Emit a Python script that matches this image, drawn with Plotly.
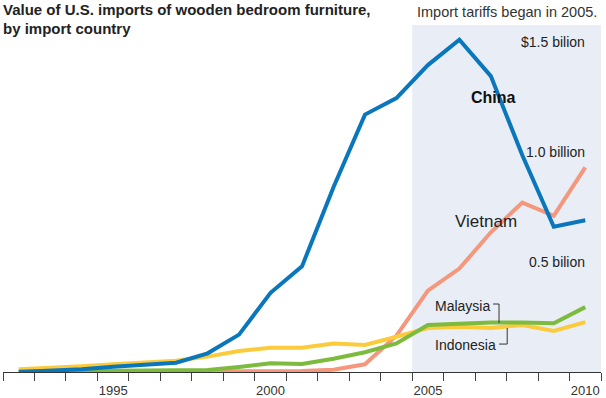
import plotly.graph_objects as go

years = list(range(1992, 2011))
china = [0.0, 0.005, 0.012, 0.024, 0.033, 0.042, 0.085, 0.17, 0.36, 0.48, 0.84, 1.17, 1.245, 1.395, 1.51, 1.345, 0.985, 0.66, 0.69]
vietnam_years = list(range(1996, 2011))
vietnam = [0.002, 0.002, 0.002, 0.003, 0.003, 0.004, 0.01, 0.035, 0.165, 0.37, 0.47, 0.635, 0.77, 0.71, 0.93]
malaysia = [0.002, 0.003, 0.004, 0.005, 0.006, 0.007, 0.009, 0.023, 0.04, 0.036, 0.06, 0.09, 0.13, 0.214, 0.221, 0.225, 0.225, 0.222, 0.295]
indonesia = [0.012, 0.018, 0.026, 0.035, 0.043, 0.051, 0.07, 0.095, 0.11, 0.11, 0.13, 0.123, 0.16, 0.2, 0.206, 0.2, 0.214, 0.187, 0.227]

tick_years = [1995, 2000, 2005, 2010]
boundaries = [y - 0.5 for y in range(1992, 2012)]

C_CHINA = "#0A77BD"
C_VIET = "#F4977C"
C_MAL = "#7DBB3E"
C_INDO = "#FBCB3C"

Y_MAX = 1.6

fig = go.Figure()
fig.add_trace(go.Scatter(x=vietnam_years, y=vietnam, mode="lines", line=dict(color=C_VIET, width=4), hoverinfo="skip"))
fig.add_trace(go.Scatter(x=years, y=indonesia, mode="lines", line=dict(color=C_INDO, width=4), hoverinfo="skip"))
fig.add_trace(go.Scatter(x=years, y=malaysia, mode="lines", line=dict(color=C_MAL, width=4), hoverinfo="skip"))
fig.add_trace(go.Scatter(x=years, y=china, mode="lines", line=dict(color=C_CHINA, width=4), hoverinfo="skip"))

# shaded tariff period
fig.add_shape(type="rect", xref="x", yref="y", x0=2004.5, x1=2010.5, y0=0, y1=1.577,
              fillcolor="#E9EEF6", line=dict(width=0), layer="below")

# leader brackets
fig.add_shape(type="path", xref="x", yref="y",
              path="M 2007.07 0.309 L 2007.26 0.309 L 2007.26 0.223",
              line=dict(color="#333", width=1))
fig.add_shape(type="path", xref="x", yref="y",
              path="M 2007.26 0.127 L 2007.52 0.127 L 2007.52 0.2",
              line=dict(color="#333", width=1))

FONT = "Liberation Sans, Arial, sans-serif"
anns = [
    dict(x=1991.5, y=1.648, text="<b>Value of U.S. imports of wooden bedroom furniture,</b>", xanchor="left", size=15, color="#222", dx=-2),
    dict(x=1991.5, y=1.563, text="<b>by import country</b>", xanchor="left", size=15, color="#222", dx=-2),
    dict(x=2010.45, y=1.635, text="Import tariffs began in 2005.", xanchor="right", size=14.5, color="#333", dx=0),
    dict(x=2010.06, y=1.5, text="$1.5 bilion", xanchor="right", size=14, color="#222", dx=0),
    dict(x=2010.06, y=1.0, text="1.0 billion", xanchor="right", size=14, color="#222", dx=0),
    dict(x=2010.06, y=0.5, text="0.5 bilion", xanchor="right", size=14, color="#222", dx=0),
    dict(x=2007.07, y=1.25, text="<b>China</b>", xanchor="center", size=16, color="#111", dx=0),
    dict(x=2006.85, y=0.682, text="Vietnam", xanchor="center", size=17, color="#222", dx=0),
    dict(x=2007.05, y=0.30, text="Malaysia", xanchor="right", size=14, color="#222", dx=0),
    dict(x=2007.24, y=0.123, text="Indonesia", xanchor="right", size=14, color="#222", dx=0),
]
for a in anns:
    fig.add_annotation(x=a["x"], y=a["y"] / Y_MAX, xref="x", yref="paper", text=a["text"], showarrow=False,
                       xanchor=a["xanchor"], yanchor="middle", xshift=a["dx"],
                       font=dict(family=FONT, size=a["size"], color=a["color"]))

fig.update_layout(
    width=606, height=398,
    margin=dict(l=3, r=5, t=20, b=26, autoexpand=False),
    paper_bgcolor="white", plot_bgcolor="white",
    showlegend=False,
    font=dict(family=FONT, color="#333"),
    xaxis=dict(range=[1991.5, 2010.5], tickmode="array", tickvals=tick_years,
               ticktext=[str(t) for t in tick_years], automargin=False,
               ticks="outside", ticklen=6, tickcolor="rgba(0,0,0,0)",
               tickfont=dict(family=FONT, size=13, color="#333"),
               showgrid=False, zeroline=False, showline=True, linecolor="#333", linewidth=1,
               minor=dict(tickmode="array", tickvals=boundaries, ticks="outside", ticklen=8,
                          tickcolor="#444", tickwidth=1, showgrid=False),
               fixedrange=True),
    yaxis=dict(range=[0, Y_MAX], visible=False, fixedrange=True, automargin=False),
)

fig.write_html("out.html", config={"displayModeBar": False},
               post_script="document.body.style.margin='0';")
